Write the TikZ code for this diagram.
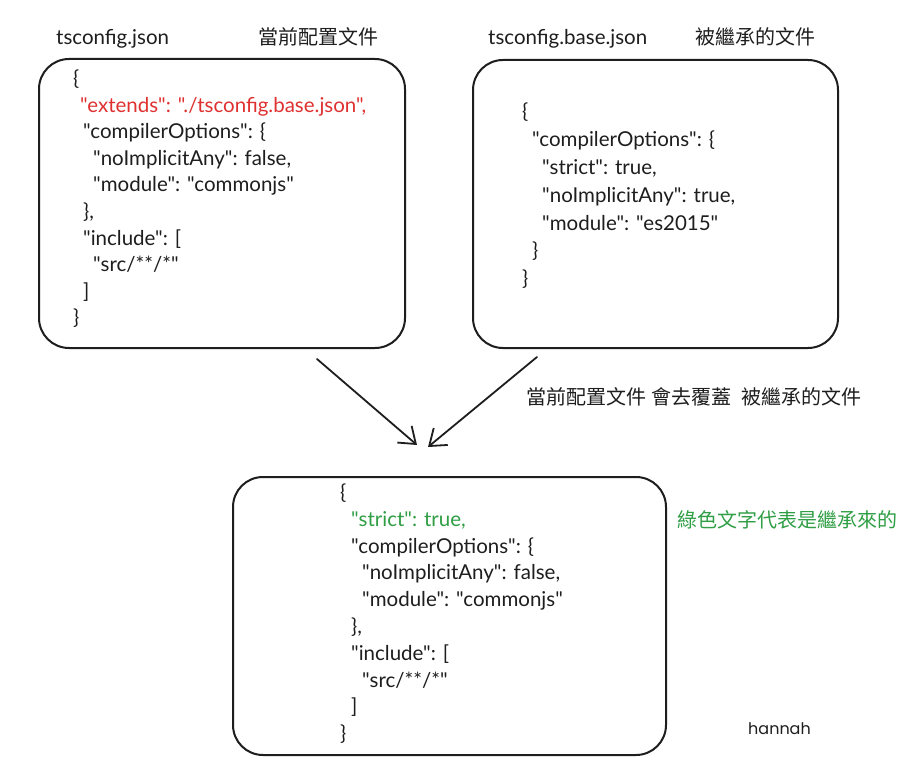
\documentclass[tikz,border=0pt]{standalone}
\usepackage{fontspec}
\newfontfamily\codefont{Lato}
\newfontfamily\cjk{Noto Sans CJK TC}
\newfontfamily\handfont{Poppins}
\usetikzlibrary{arrows.meta}
\definecolor{exred}{HTML}{E03131}
\definecolor{exgreen}{HTML}{2F9E44}
\definecolor{ink}{HTML}{1E1E1E}
\tikzset{
  box/.style={draw=ink, line width=2pt, rounded corners=30pt, inner sep=0pt},
  ln/.style={anchor=west, inner sep=0pt, text height=15pt, text depth=5pt, text=ink, font=\codefont\fontsize{20.5}{24}\selectfont},
  cj/.style={anchor=west, inner sep=0pt, text=ink, font=\cjk\fontsize{20}{24}\selectfont},
  conn/.style={draw=ink, line width=1.8pt, line cap=round, -{Straight Barb[length=15pt,width=22pt,line width=1.8pt]}},
}
\begin{document}
\begin{tikzpicture}[x=1pt,y=-1pt]
\useasboundingbox[fill=white] (0,0) rectangle (921,770);

% titles
\node[ln] (t1) at (56,40) {tsconfig.json};
\node[cj] (c1) at (258,37) {當前配置文件};
\node[ln] (t2) at (488,40) {tsconfig.base.json};
\node[cj] (c2) at (695,37) {被繼承的文件};

% boxes
\node[box, minimum width=366pt, minimum height=289pt] (box1) at (222,203.5) {};
\node[box, minimum width=365pt, minimum height=288pt] (box2) at (655.5,204) {};
\node[box, minimum width=433pt, minimum height=278pt] (box3) at (449.5,616) {};

% box1 text
\node[ln] (a1) at (73,81) {\{};
\node[ln, text=exred] (a2) at (80,107.5) {"extends": "./tsconfig.base.json",};
\node[ln] (a3) at (83,134) {"compilerOptions": \{};
\node[ln] (a4) at (93,160.5) {"noImplicitAny": false,};
\node[ln] (a5) at (93,187) {"module": "commonjs"};
\node[ln] (a6) at (83,213.5) {\},};
\node[ln] (a7) at (83,240) {"include": [};
\node[ln] (a8) at (93,266.5) {"src/**/*"};
\node[ln] (a9) at (83,293) {]};
\node[ln] (a10) at (73,319.5) {\}};

% box2 text
\node[ln] (b1) at (522,114) {\{};
\node[ln] (b2) at (532,141.8) {"compilerOptions": \{};
\node[ln] (b3) at (542,169.6) {"strict": true,};
\node[ln] (b4) at (542,197.4) {"noImplicitAny": true,};
\node[ln] (b5) at (542,225.2) {"module": "es2015"};
\node[ln] (b6) at (532,253) {\}};
\node[ln] (b7) at (522,280.8) {\}};

% box3 text
\node[ln] (d1) at (340,494.5) {\{};
\node[ln, text=exgreen] (d2) at (351,521.3) {"strict": true,};
\node[ln] (d3) at (351,548.1) {"compilerOptions": \{};
\node[ln] (d4) at (362,574.9) {"noImplicitAny": false,};
\node[ln] (d5) at (362,601.7) {"module": "commonjs"};
\node[ln] (d6) at (351,628.5) {\},};
\node[ln] (d7) at (351,655.3) {"include": [};
\node[ln] (d8) at (362,682.1) {"src/**/*"};
\node[ln] (d9) at (351,708.9) {]};
\node[ln] (d10) at (340,735.7) {\}};

% labels
\node[cj] (lab) at (526,397) {當前配置文件\hspace{5pt}會去覆蓋\hspace{10pt}被繼承的文件};
\node[cj, text=exgreen] (green) at (677,520) {綠色文字代表是繼承來的};
\node[anchor=west, inner sep=0pt, text=ink, font=\handfont\fontsize{16}{20}\selectfont] (sig) at (748,729) {hannah};

% arrows
\coordinate (s1) at (317,359);
\coordinate (e1) at (417,445);
\coordinate (s2) at (537,357);
\coordinate (e2) at (428,447);
\draw[conn] (s1) -- (e1);
\draw[conn] (s2) -- (e2);
\end{tikzpicture}
\end{document}
